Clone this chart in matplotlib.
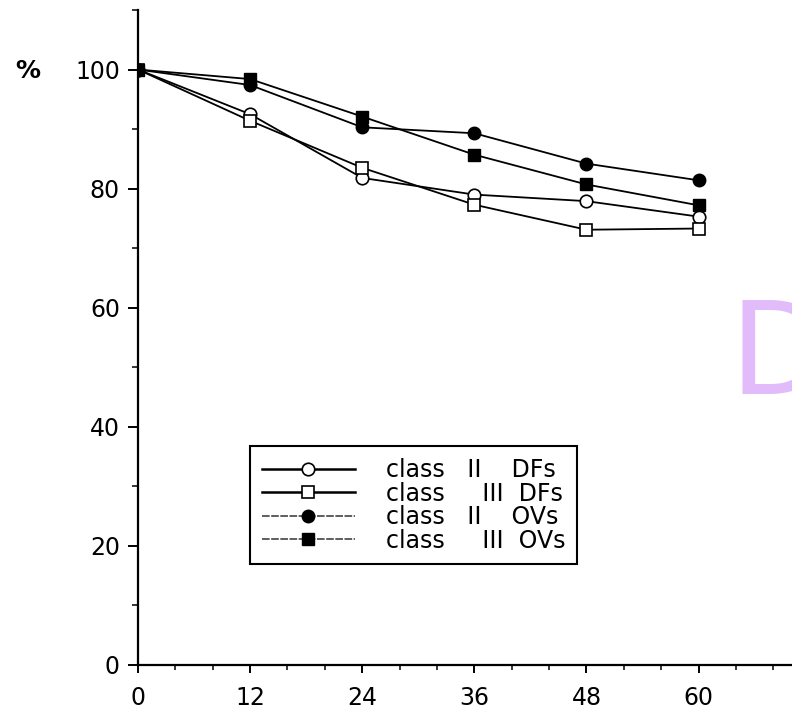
import matplotlib
matplotlib.use("Agg")
import matplotlib.pyplot as plt
from matplotlib.lines import Line2D
from matplotlib.ticker import MultipleLocator

plt.rcParams['font.family'] = ['DejaVu Sans']

months = [0, 12, 24, 36, 48, 60]
class2_dfs = [100, 92.5, 81.8, 79.0, 77.9, 75.3]
class3_dfs = [100, 91.4, 83.5, 77.3, 73.1, 73.3]
class2_ovs = [100, 97.4, 90.3, 89.3, 84.2, 81.4]
class3_ovs = [100, 98.4, 92.1, 85.7, 80.7, 77.2]

labels = ["class   II    DFs", "class     III  DFs", "class   II    OVs", "class     III  OVs"]
x_ticks = [0, 12, 24, 36, 48, 60]
y_ticks = [0, 20, 40, 60, 80, 100]

fig = plt.figure(figsize=(7.92, 7.10), dpi=100)
ax = fig.add_axes([138/792, 45/710, 654/792, 655/710])

ms = 9
ax.plot(months, class2_dfs, '-', color='black', lw=1.3, marker='o', ms=ms,
        mfc='white', mec='black', mew=1.2, zorder=3)
ax.plot(months, class3_dfs, '-', color='black', lw=1.3, marker='s', ms=ms,
        mfc='white', mec='black', mew=1.2, zorder=3)
ax.plot(months, class2_ovs, '-', color='black', lw=1.3, marker='o', ms=ms,
        mfc='black', mec='black', zorder=4)
ax.plot(months, class3_ovs, '-', color='black', lw=1.3, marker='s', ms=ms,
        mfc='black', mec='black', zorder=4)

ax.set_xlim(0, 70)
ax.set_ylim(0, 110)
ax.set_xticks(x_ticks)
ax.set_yticks(y_ticks)
ax.xaxis.set_minor_locator(MultipleLocator(4))
ax.yaxis.set_minor_locator(MultipleLocator(10))
for s in ['top', 'right']:
    ax.spines[s].set_visible(False)
for s in ['left', 'bottom']:
    ax.spines[s].set_linewidth(1.6)
ax.tick_params(axis='x', which='major', direction='out', length=6, width=1.4,
               labelsize=17, pad=9)
ax.tick_params(axis='x', which='minor', direction='out', length=3.6, width=1.1)
ax.tick_params(axis='y', which='major', direction='out', length=7, width=1.4,
               labelsize=17, pad=6)
ax.tick_params(axis='y', which='minor', direction='out', length=4.3, width=1.1)

fig.text(15/792, 1 - 71/710, '%', fontsize=18, fontweight='bold', ha='left', va='center')

handles = [
    Line2D([], [], color='black', lw=1.8, marker='o', ms=ms, mfc='white', mec='black', mew=1.2),
    Line2D([], [], color='black', lw=1.8, marker='s', ms=ms, mfc='white', mec='black', mew=1.2),
    Line2D([], [], color='#333333', lw=1.1, ls=(0, (5, 1)), marker='o', ms=ms, mfc='black', mec='black'),
    Line2D([], [], color='#333333', lw=1.1, ls=(0, (5, 1)), marker='s', ms=ms, mfc='black', mec='black'),
]
leg = ax.legend(handles, labels, loc='upper left', bbox_to_anchor=(0.171, 0.334),
                fontsize=17, frameon=True, fancybox=False, edgecolor='black',
                handlelength=3.95, handletextpad=1.3, labelspacing=-0.02,
                borderpad=0.5, borderaxespad=0, framealpha=1)
leg.get_frame().set_linewidth(1.5)

fig.text(730/792, 1 - 358/710, 'D', fontsize=92, color='#e2bbfa',
         ha='left', va='center')

fig.savefig('out.png', dpi=100)
